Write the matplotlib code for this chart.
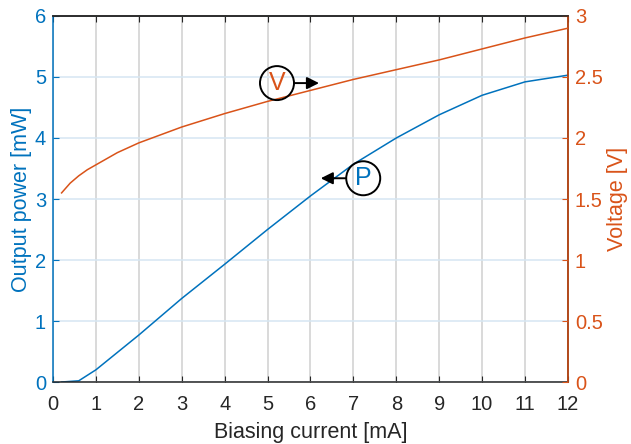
import matplotlib.pyplot as plt

plt.rcParams["font.family"] = ["Liberation Sans", "DejaVu Sans"]

# biasing current [mA]
current_p = [0.2, 0.6, 1, 2, 3, 4, 5, 6, 7, 8, 9, 10, 11, 12]
power = [0.0, 0.02, 0.2, 0.77, 1.37, 1.93, 2.5, 3.05, 3.57, 4.0, 4.38, 4.7, 4.92, 5.03]

current_v = [0.2, 0.4, 0.6, 0.8, 1, 1.5, 2, 3, 4, 5, 6, 7, 8, 9, 10, 11, 12]
voltage = [1.55, 1.63, 1.69, 1.74, 1.78, 1.88, 1.96, 2.09, 2.2, 2.3, 2.39, 2.48,
           2.56, 2.64, 2.73, 2.82, 2.9]

blue = "#0072BD"
orange = "#D95319"
dark = "#262626"

fig = plt.figure(figsize=(6.31, 4.44), dpi=100)
ax = fig.add_axes([0.084, 0.1396, 0.816, 0.8244])
ax2 = ax.twinx()

ax.plot(current_p, power, color=blue, lw=1.1)
ax2.plot(current_v, voltage, color=orange, lw=1.1)

ax.set_xlim(0, 12)
ax.set_ylim(0, 6)
ax2.set_ylim(0, 3)
ax.set_xticks(range(13))
ax.set_yticks(range(7))
ax2.set_yticks([0, 0.5, 1, 1.5, 2, 2.5, 3])
ax2.set_yticklabels(["0", "0.5", "1", "1.5", "2", "2.5", "3"])

# grid: vertical lines grey, horizontal lines follow left axis colour
ax.grid(True, axis="x", color="#d0d0d0", lw=1.1)
ax.grid(True, axis="y", color="#d6e6f2", lw=1.1)
ax.set_axisbelow(True)

ax.tick_params(axis="x", direction="in", top=True, colors=dark, labelsize=14.5,
               length=4, pad=9)
ax.tick_params(axis="y", direction="in", colors=blue, labelsize=14.5, length=4, pad=5)
ax2.tick_params(axis="y", direction="in", colors=orange, labelsize=14.5, length=4, pad=5)

ax.spines["left"].set_color(blue)
ax.spines["bottom"].set_color(dark)
ax.spines["top"].set_color(dark)
ax2.spines["left"].set_visible(False)
ax2.spines["right"].set_color(orange)
ax2.spines["top"].set_color(dark)
ax2.spines["bottom"].set_visible(False)
for s in ax.spines.values():
    s.set_linewidth(1.1)
for s in ax2.spines.values():
    s.set_linewidth(1.1)

ax.set_xlabel("Biasing current [mA]", fontsize=15.5, color=dark, labelpad=6)
ax.set_ylabel("Output power [mW]", fontsize=15.5, color=blue, labelpad=2)
ax2.set_ylabel("Voltage [V]", fontsize=15.5, color=orange, labelpad=3)

ax2.annotate("V", xy=(6.2, 2.45), xytext=(5.22, 2.45), ha="center", va="center",
             fontsize=18, color=orange,
             bbox=dict(boxstyle="circle,pad=0.2", fc="none", ec="black", lw=1.4),
             arrowprops=dict(arrowstyle="-|>", color="black", lw=1.4, shrinkA=0, shrinkB=0))
ax.annotate("P", xy=(6.24, 3.34), xytext=(7.23, 3.34), ha="center", va="center",
            fontsize=18, color=blue,
            bbox=dict(boxstyle="circle,pad=0.2", fc="none", ec="black", lw=1.4),
            arrowprops=dict(arrowstyle="-|>", color="black", lw=1.4, shrinkA=0, shrinkB=0))

fig.savefig("out.png", dpi=100)
